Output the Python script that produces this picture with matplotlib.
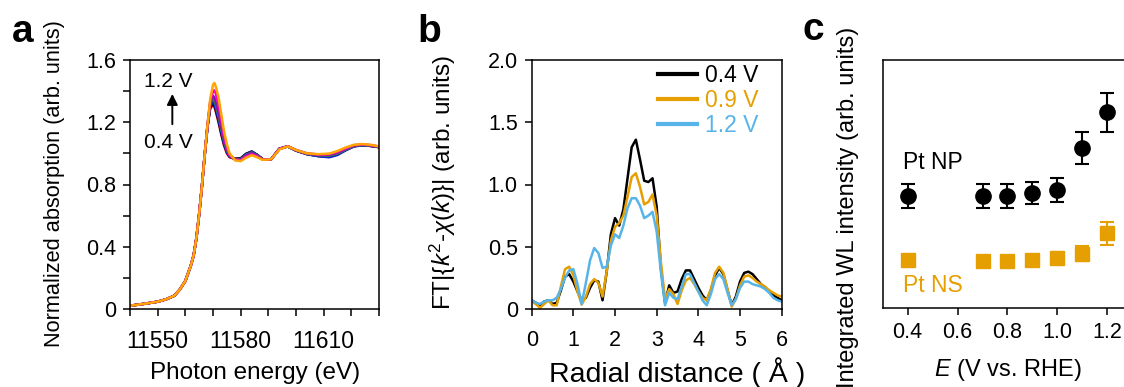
import numpy as np
import matplotlib
matplotlib.use("Agg")
import matplotlib.pyplot as plt

plt.rcParams['font.family'] = ['Liberation Sans', 'DejaVu Sans']
plt.rcParams['mathtext.fontset'] = 'custom'
plt.rcParams['mathtext.rm'] = 'Liberation Sans'
plt.rcParams['mathtext.it'] = 'Liberation Sans:italic'
plt.rcParams['lines.solid_joinstyle'] = 'round'

ORANGE = '#E69F00'
BLUE = '#56B4E9'

# ---- panel a : XANES, Pt L3 edge ----
energy_edge = [11540, 11545, 11550, 11553, 11556, 11558, 11560, 11562, 11563,
               11564, 11565, 11566, 11567]
mu_edge = [0.021, 0.033, 0.047, 0.062, 0.085, 0.125, 0.18, 0.28, 0.345,
           0.455, 0.61, 0.79, 0.99]
energy_post = [11568, 11569, 11570, 11570.5, 11571, 11572, 11573, 11574, 11575,
               11576, 11578, 11580, 11582, 11584, 11586, 11588, 11591, 11594,
               11597, 11600, 11604, 11608, 11612, 11615, 11618, 11621, 11624,
               11627, 11630]
mu_04 = [1.17, 1.29, 1.31, 1.30, 1.27, 1.20, 1.12, 1.05, 1.00, 0.975, 0.965, 0.968,
         0.995, 1.010, 0.990, 0.962, 0.962, 1.030, 1.045, 1.018, 0.995, 0.985, 0.980,
         0.995, 1.025, 1.048, 1.052, 1.048, 1.040]
mu_07 = [1.17, 1.30, 1.32, 1.31, 1.28, 1.21, 1.13, 1.06, 1.01, 0.98, 0.965, 0.968,
         0.998, 1.012, 0.990, 0.962, 0.962, 1.030, 1.045, 1.018, 0.995, 0.983, 0.978,
         0.993, 1.022, 1.046, 1.052, 1.048, 1.040]
mu_08 = [1.17, 1.305, 1.33, 1.32, 1.29, 1.22, 1.14, 1.065, 1.01, 0.98, 0.963, 0.965,
         0.995, 1.010, 0.990, 0.962, 0.962, 1.030, 1.045, 1.018, 0.995, 0.982, 0.975,
         0.990, 1.020, 1.045, 1.052, 1.048, 1.040]
mu_09 = [1.175, 1.32, 1.355, 1.345, 1.31, 1.24, 1.155, 1.08, 1.02, 0.985, 0.962, 0.963,
         0.990, 1.005, 0.988, 0.962, 0.962, 1.030, 1.045, 1.020, 0.997, 0.988, 0.985,
         0.998, 1.025, 1.048, 1.054, 1.050, 1.042]
mu_10 = [1.175, 1.325, 1.37, 1.36, 1.33, 1.26, 1.17, 1.09, 1.03, 0.987, 0.960, 0.960,
         0.986, 1.002, 0.985, 0.961, 0.962, 1.029, 1.045, 1.021, 0.998, 0.990, 0.990,
         1.003, 1.028, 1.050, 1.056, 1.051, 1.043]
mu_11 = [1.18, 1.335, 1.40, 1.405, 1.385, 1.31, 1.21, 1.11, 1.04, 0.99, 0.958, 0.955,
         0.980, 0.995, 0.980, 0.960, 0.962, 1.028, 1.046, 1.022, 1.000, 0.993, 0.995,
         1.010, 1.033, 1.053, 1.058, 1.053, 1.044]
mu_12 = [1.18, 1.35, 1.44, 1.452, 1.43, 1.36, 1.25, 1.14, 1.06, 1.00, 0.955, 0.950,
         0.972, 0.988, 0.975, 0.958, 0.962, 1.025, 1.045, 1.022, 1.000, 0.995, 0.998,
         1.015, 1.038, 1.055, 1.060, 1.055, 1.045]
xanes_series = [mu_04, mu_07, mu_08, mu_09, mu_10, mu_11, mu_12]
xanes_colors = ['#E0001B', 'black', '#1020E0', '#2E8B2E', '#7A1FA2', '#FF00C8', '#FFA500']

# ---- panel b : EXAFS FT ----
r_dist = [i / 10 for i in range(61)]
ft_04 = [0.07, 0.05, 0.03, 0.06, 0.07, 0.04, 0.05, 0.15, 0.26, 0.28, 0.22, 0.14, 0.07,
         0.09, 0.17, 0.23, 0.22, 0.07, 0.30, 0.60, 0.73, 0.67, 0.80, 1.05, 1.30, 1.36,
         1.20, 1.03, 1.02, 1.05, 0.82, 0.33, 0.05, 0.19, 0.13, 0.14, 0.24, 0.31, 0.31,
         0.24, 0.17, 0.11, 0.07, 0.15, 0.27, 0.33, 0.28, 0.15, 0.03, 0.10, 0.22, 0.29,
         0.30, 0.28, 0.24, 0.20, 0.17, 0.14, 0.11, 0.09, 0.07]
ft_09 = [0.06, 0.04, 0.01, 0.04, 0.07, 0.03, 0.03, 0.18, 0.32, 0.34, 0.27, 0.14, 0.035,
         0.10, 0.20, 0.24, 0.21, 0.10, 0.30, 0.55, 0.66, 0.69, 0.75, 0.90, 1.06, 1.09,
         0.98, 0.84, 0.86, 0.92, 0.75, 0.38, 0.08, 0.16, 0.12, 0.04, 0.15, 0.23, 0.25,
         0.20, 0.14, 0.09, 0.07, 0.16, 0.29, 0.34, 0.29, 0.16, 0.02, 0.08, 0.19, 0.26,
         0.27, 0.25, 0.22, 0.20, 0.18, 0.15, 0.13, 0.11, 0.10]
ft_12 = [0.07, 0.05, 0.04, 0.06, 0.07, 0.07, 0.09, 0.16, 0.25, 0.31, 0.32, 0.20, 0.04,
         0.21, 0.39, 0.49, 0.45, 0.33, 0.34, 0.51, 0.60, 0.57, 0.67, 0.81, 0.89, 0.89,
         0.83, 0.73, 0.75, 0.78, 0.62, 0.30, 0.03, 0.13, 0.09, 0.08, 0.18, 0.28, 0.28,
         0.21, 0.14, 0.07, 0.03, 0.12, 0.24, 0.28, 0.24, 0.13, 0.03, 0.08, 0.17, 0.22,
         0.22, 0.20, 0.19, 0.18, 0.16, 0.13, 0.09, 0.07, 0.06]
ft_labels = ['0.4 V', '0.9 V', '1.2 V']
ft_colors = ['black', ORANGE, BLUE]

# ---- panel c : white line intensity ----
potential = [0.4, 0.7, 0.8, 0.9, 1.0, 1.1, 1.2]
wl_np = [0.452, 0.452, 0.452, 0.464, 0.476, 0.646, 0.789]
wl_np_err = [0.047, 0.047, 0.047, 0.046, 0.048, 0.065, 0.079]
wl_ns = [0.194, 0.191, 0.191, 0.194, 0.200, 0.218, 0.301]
wl_ns_err = [0.02, 0.02, 0.02, 0.02, 0.02, 0.03, 0.047]

W, H = 1124, 387
fig = plt.figure(figsize=(W / 100, H / 100), dpi=100)


def box(l, r, t, b):
    return [l / W, 1 - b / H, (r - l) / W, (b - t) / H]


def style(ax):
    for s in ax.spines.values():
        s.set_linewidth(1.1)
    ax.tick_params(which='both', direction='out', length=5, width=1.1, labelsize=15.5, pad=5)


# panel a
ax1 = fig.add_axes(box(130, 379, 60, 309))
energy_all = energy_edge + energy_post
for mu, c in zip(xanes_series, xanes_colors):
    ax1.plot(energy_all, mu_edge + mu, color=c, lw=1.8)
ax1.set_xlim(11540, 11630)
ax1.set_ylim(0, 1.6)
ax1.set_xticks([11550, 11580, 11610])
ax1.set_xticks(np.arange(11540, 11631, 10), minor=True)
ax1.set_yticks([0, 0.4, 0.8, 1.2, 1.6])
ax1.set_yticklabels(['0', '0.4', '0.8', '1.2', '1.6'])
ax1.set_yticks([0.2, 0.6, 1.0, 1.4], minor=True)
style(ax1)
ax1.tick_params(axis='x', labelsize=16.5, pad=10)
ax1.text(11554, 1.46, '1.2 V', fontsize=15, ha='center', va='center')
ax1.text(11554, 1.07, '0.4 V', fontsize=15, ha='center', va='center')
ax1.annotate('', xy=(11555.3, 1.40), xytext=(11555.3, 1.17),
             arrowprops=dict(arrowstyle='-|>', color='black', lw=1.4, mutation_scale=16))
fig.text(55 / W, 1 - 184 / H, 'Normalized absorption (arb. units)', rotation=90,
         ha='center', va='center', fontsize=15.7)
fig.text(255 / W, 1 - 373 / H, 'Photon energy (eV)', ha='center', va='center', fontsize=17.5)

# panel b
ax2 = fig.add_axes(box(531.7, 781.7, 60, 309))
for f, c, lab in zip([ft_04, ft_09, ft_12], ft_colors, ft_labels):
    ax2.plot(r_dist, f, color=c, lw=1.8, label=lab)
ax2.set_xlim(0, 6)
ax2.set_ylim(0, 2.0)
ax2.set_xticks(range(7))
ax2.set_yticks([0, 0.5, 1.0, 1.5, 2.0])
ax2.set_yticklabels(['0', '0.5', '1.0', '1.5', '2.0'])
style(ax2)
ax2.tick_params(axis='x', pad=10)
leg = ax2.legend(loc='upper left', bbox_to_anchor=(658 / W, 1 - 64 / H),
                 bbox_transform=fig.transFigure, frameon=False, fontsize=16.5,
                 labelcolor='linecolor', handlelength=1.7, handletextpad=0.35,
                 labelspacing=0.08, borderaxespad=0, borderpad=0)
for ln in leg.get_lines():
    ln.set_linewidth(3)
fig.text(443 / W, 1 - 182 / H, r'FT|{$k^{2}$-$\chi$($k$)}| (arb. units)', rotation=90,
         ha='center', va='center', fontsize=17.5)
fig.text(677 / W, 1 - 373 / H, 'Radial distance ( Å )', ha='center', va='center', fontsize=20.5)

# panel c
ax3 = fig.add_axes(box(882.7, 1132.2, 60, 308))
ax3.errorbar(potential, wl_np, yerr=wl_np_err, fmt='o', color='black', ms=11,
             capsize=5, elinewidth=1.5, capthick=1.5)
ax3.errorbar(potential, wl_ns, yerr=wl_ns_err, fmt='s', color=ORANGE, ms=10.5,
             capsize=5, elinewidth=1.5, capthick=1.5)
ax3.set_xlim(0.3, 1.3)
ax3.set_ylim(0, 1)
ax3.set_xticks([0.4, 0.6, 0.8, 1.0, 1.2])
ax3.set_xticklabels(['0.4', '0.6', '0.8', '1.0', '1.2'])
ax3.set_yticks([])
style(ax3)
ax3.text(0.38, 0.585, 'Pt NP', fontsize=16.5, ha='left', va='center')
ax3.text(0.38, 0.09, 'Pt NS', fontsize=16.5, ha='left', va='center', color=ORANGE)
fig.text(848 / W, 1 - 207 / H, 'Integrated WL intensity (arb. units)', rotation=90,
         ha='center', va='center', fontsize=17)
fig.text(1008 / W, 1 - 370 / H, r'$E$ (V vs. RHE)', ha='center', va='center', fontsize=17)

# panel letters
fig.text(12 / W, 1 - 42 / H, 'a', fontsize=28, fontweight='bold', va='baseline')
fig.text(417 / W, 1 - 42 / H, 'b', fontsize=28, fontweight='bold', va='baseline')
fig.text(802 / W, 1 - 40 / H, 'c', fontsize=28, fontweight='bold', va='baseline')

fig.savefig('out.png', dpi=100)
